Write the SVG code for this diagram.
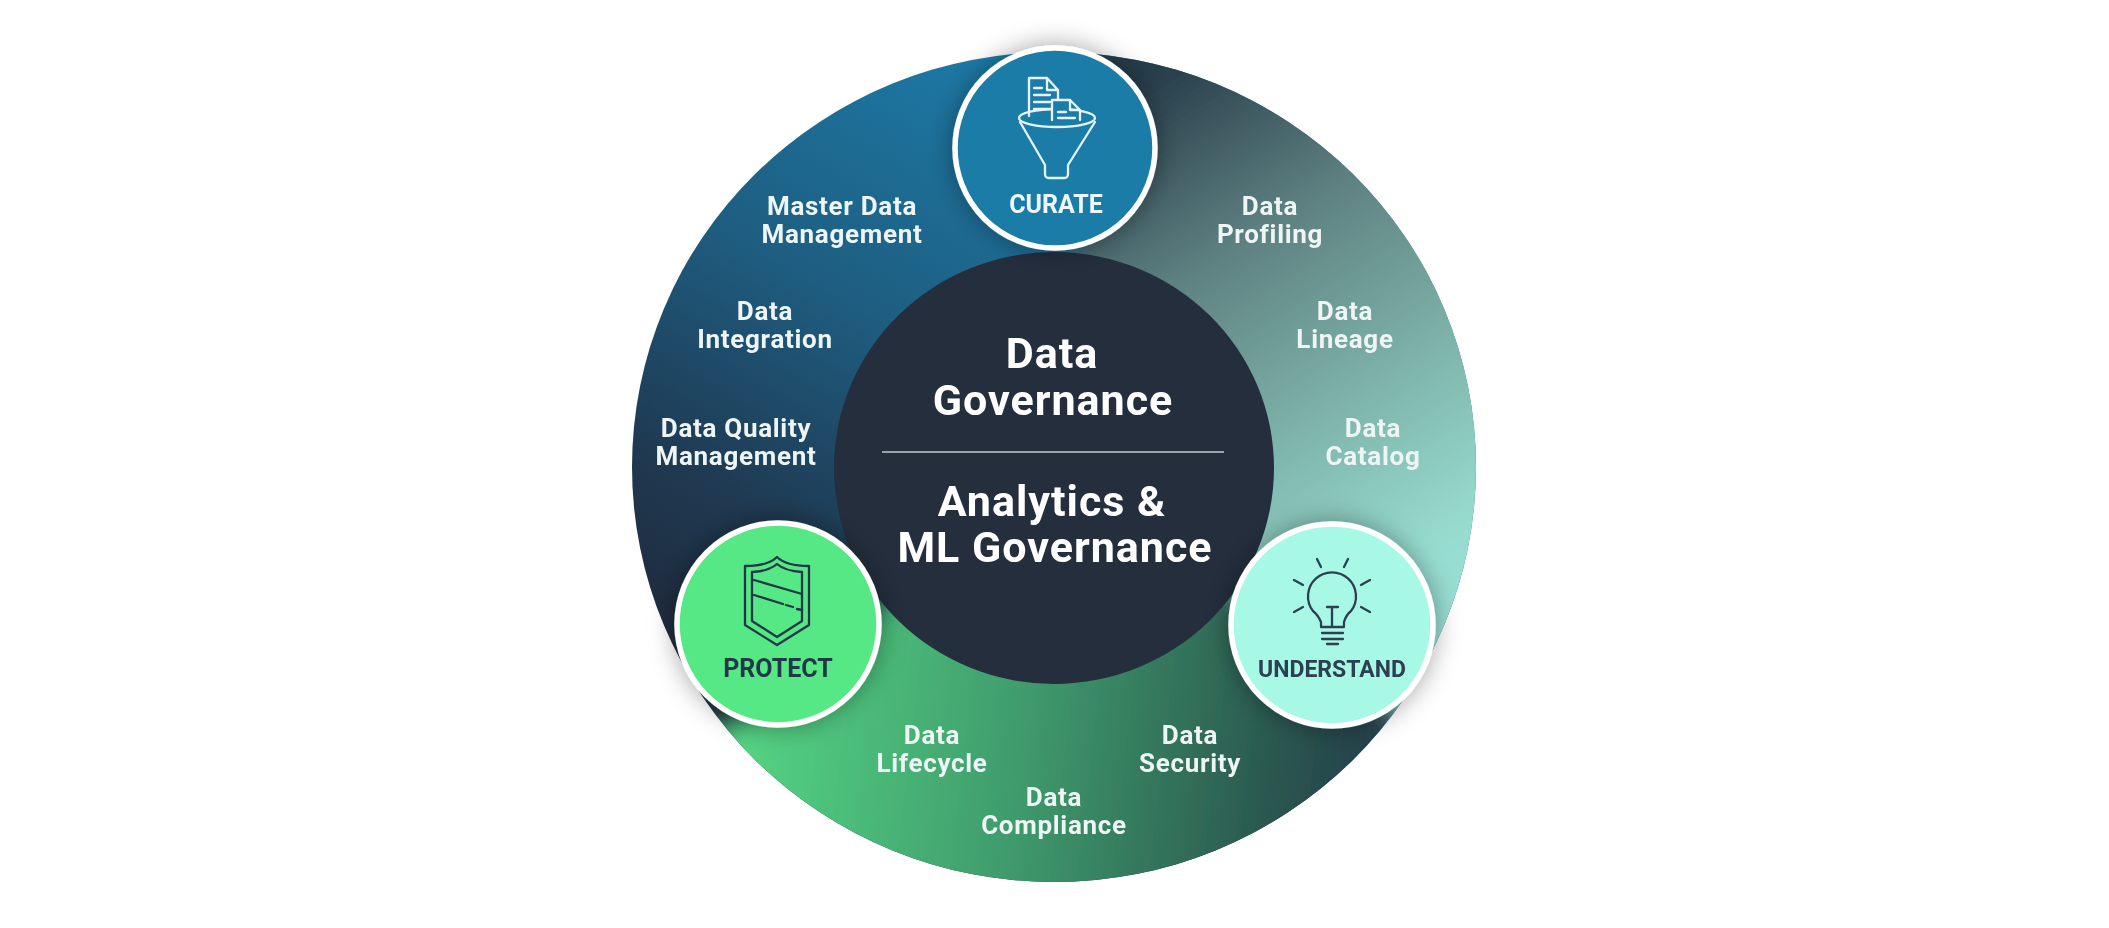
<svg xmlns="http://www.w3.org/2000/svg" width="2109" height="928" viewBox="0 0 2109 928">
<style>
text{font-family:Roboto,"Noto Sans","Liberation Sans",sans-serif;font-weight:700;text-anchor:middle}
.t{font-size:26px;letter-spacing:.7px;fill:#eef5f5;filter:url(#soft)}
.h{font-size:43px;letter-spacing:1px;fill:#fff;filter:url(#soft)}
.l{font-size:25px;filter:url(#soft)}
.ic{fill:none;stroke-width:2.3;stroke-linecap:round;stroke-linejoin:round;filter:url(#soft)}
.c{stroke:#fff;stroke-width:5.5;filter:url(#sh)}
</style>
<defs>
<filter id="soft" x="-10%" y="-10%" width="120%" height="120%"><feGaussianBlur stdDeviation="0.7"/></filter>
<filter id="b" x="-20%" y="-20%" width="140%" height="140%"><feGaussianBlur stdDeviation="14"/></filter>
<filter id="sh" x="-30%" y="-30%" width="160%" height="160%"><feDropShadow dx="0" dy="0" stdDeviation="13" flood-color="#000" flood-opacity=".36"/></filter>
<clipPath id="ring"><ellipse cx="1054" cy="467" rx="422" ry="415"/></clipPath>
<linearGradient id="gl" gradientUnits="userSpaceOnUse" x1="1010" y1="60" x2="690" y2="620"><stop offset="0" stop-color="#1c7ba8"/><stop offset=".45" stop-color="#1e5d80"/><stop offset=".8" stop-color="#1f3a52"/><stop offset="1" stop-color="#1f2d40"/></linearGradient>
<linearGradient id="gr" gradientUnits="userSpaceOnUse" x1="1130" y1="90" x2="1420" y2="560"><stop offset="0" stop-color="#283e4b"/><stop offset=".35" stop-color="#5f8282"/><stop offset=".7" stop-color="#7fb5ab"/><stop offset="1" stop-color="#98ddd1"/></linearGradient>
<linearGradient id="gb" gradientUnits="userSpaceOnUse" x1="720" y1="700" x2="1400" y2="780"><stop offset="0" stop-color="#56d985"/><stop offset=".45" stop-color="#3f9a6c"/><stop offset=".8" stop-color="#2b5a50"/><stop offset="1" stop-color="#24394a"/></linearGradient>
</defs>
<rect width="2109" height="928" fill="#fff"/>
<g id="ring-sectors" clip-path="url(#ring)">
<rect x="600" y="20" width="900" height="900" fill="url(#gl)"/>
<polygon points="1054,467 1090,0 1900,0 1700,1000" fill="url(#gr)" filter="url(#b)"/>
<polygon points="1054,467 1620,880 1400,1000 500,1000 470,925" fill="url(#gb)" filter="url(#b)"/>
</g>
<g id="center">
<ellipse cx="1054" cy="468" rx="220" ry="216" fill="#242e3d"/>
<text class="h" x="1052" y="368">Data</text>
<text class="h" x="1053" y="415">Governance</text>
<line x1="882" y1="452" x2="1224" y2="452" stroke="#c5cacf" stroke-width="1.5"/>
<text class="h" x="1052" y="516">Analytics &amp;</text>
<text class="h" x="1055" y="562">ML Governance</text>
</g>
<g id="items">
<text class="t" x="842" y="215">Master Data</text><text class="t" x="842" y="243">Management</text>
<text class="t" x="765" y="320">Data</text><text class="t" x="765" y="348">Integration</text>
<text class="t" x="736" y="437">Data Quality</text><text class="t" x="736" y="465">Management</text>
<text class="t" x="1270" y="215">Data</text><text class="t" x="1270" y="243">Profiling</text>
<text class="t" x="1345" y="320">Data</text><text class="t" x="1345" y="348">Lineage</text>
<text class="t" x="1373" y="437">Data</text><text class="t" x="1373" y="465">Catalog</text>
<text class="t" x="932" y="744">Data</text><text class="t" x="932" y="772">Lifecycle</text>
<text class="t" x="1054" y="806">Data</text><text class="t" x="1054" y="834">Compliance</text>
<text class="t" x="1190" y="744">Data</text><text class="t" x="1190" y="772">Security</text>
</g>
<g id="curate">
<circle class="c" cx="1055" cy="148" r="100" fill="#1c7ba8"/>
<g class="ic" stroke="#e6f3f8">
<ellipse cx="1057" cy="118" rx="38" ry="9"/>
<path d="M1020 122L1045 165V174Q1045 178 1049 178H1064Q1068 178 1068 174V165L1095 122"/>
<path d="M1029 116V78H1047L1058 90V100M1047 78V90H1058M1034 88H1042M1034 95H1050M1034 102H1050M1034 109H1050"/>
<path d="M1052 120V100H1070L1080 110V120M1070 100V110H1080M1058 112H1066M1058 118H1075" fill="#1c7ba8"/>
</g>
<text class="l" x="1056" y="213" fill="#eef7fa">CURATE</text>
</g>
<g id="protect">
<circle class="c" cx="778" cy="624" r="101" fill="#57e885"/>
<g class="ic" stroke="#24394a">
<path d="M777 557Q768 566 745 566V625L777 645L809 625V566Q786 566 777 557Z"/>
<path d="M777 564Q769 571 752 572V621L777 637L802 621V572Q785 571 777 564Z"/>
<path d="M754 580L802 594M754 595L783 604M786 605L793 607M797 609L802 610"/>
</g>
<text class="l" x="778" y="677" fill="#24394a">PROTECT</text>
</g>
<g id="understand">
<circle class="c" cx="1332" cy="625" r="101" fill="#a8f8e6"/>
<g class="ic" stroke="#2d4150">
<path d="M1321 626V622Q1318 615 1313 611A24 24 0 1 1 1351 611Q1346 615 1344 622V626"/>
<path d="M1332 607V626M1327 607H1338M1321 627H1344M1322 633H1343M1322 639H1343M1327 644H1338"/>
<path d="M1317 559L1321 567M1348 559L1344 567M1294 580L1303 585M1370 580L1361 585M1294 612L1303 607M1370 612L1361 607"/>
</g>
<text class="l" x="1332" y="677" fill="#2d4150" style="font-size:23px">UNDERSTAND</text>
</g>
</svg>
